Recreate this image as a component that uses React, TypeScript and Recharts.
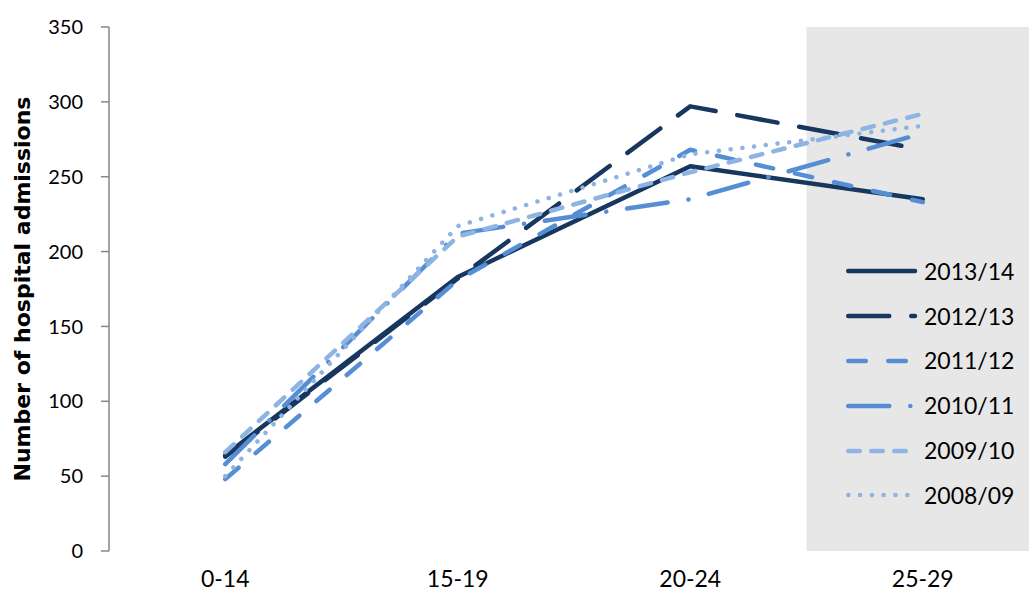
import { Legend, Line, LineChart, ReferenceArea, XAxis, YAxis } from "recharts";

const CATEGORIES = ["0-14", "15-19", "20-24", "25-29"];
const Y_TICKS = [0, 50, 100, 150, 200, 250, 300, 350];
const CATEGORY_TICKS = [0, 1, 2, 3];
const BOUNDARY_TICKS = [-0.5, 0.5, 1.5, 2.5];

// hospital admissions per age group, by year
const ADMISSIONS_2013_14 = [64, 183, 257, 235];
const ADMISSIONS_2012_13 = [63, 182, 297, 268];
const ADMISSIONS_2011_12 = [48, 181, 268, 233];
const ADMISSIONS_2010_11 = [58, 212, 235, 279];
const ADMISSIONS_2009_10 = [66, 210, 253, 292];
const ADMISSIONS_2008_09 = [50, 217, 265, 284];

const NAVY = "#17375E";
const MID_BLUE = "#558ED5";
const LIGHT_BLUE = "#8EB4E3";
const AXIS_GREY = "#868686";

const SERIES = [
  { key: "y2013", name: "2013/14", values: ADMISSIONS_2013_14, color: NAVY, dash: undefined },
  { key: "y2012", name: "2012/13", values: ADMISSIONS_2012_13, color: NAVY, dash: "41 22" },
  { key: "y2011", name: "2011/12", values: ADMISSIONS_2011_12, color: MID_BLUE, dash: "17.5 22.5" },
  { key: "y2010", name: "2010/11", values: ADMISSIONS_2010_11, color: MID_BLUE, dash: "41 21 0.1 21" },
  { key: "y2009", name: "2009/10", values: ADMISSIONS_2009_10, color: LIGHT_BLUE, dash: "11.5 11.5" },
  { key: "y2008", name: "2008/09", values: ADMISSIONS_2008_09, color: LIGHT_BLUE, dash: "0.1 11.7" },
];

const chartData = CATEGORIES.map((label, i) => {
  const row: Record<string, string | number> = { x: i, label };
  for (const s of SERIES) row[s.key] = s.values[i];
  return row;
});

function LegendContent() {
  return (
    <div style={{ fontFamily: "Lato", fontSize: 23, color: "#000" }}>
      {SERIES.map((s) => (
        <div key={s.key} style={{ display: "flex", alignItems: "center", height: 44.8 }}>
          <svg width={75} height={10} style={{ flex: "none" }}>
            <line
              x1={2.25}
              y1={5}
              x2={69}
              y2={5}
              stroke={s.color}
              strokeWidth={4.5}
              strokeLinecap="round"
              strokeDasharray={s.dash}
            />
          </svg>
          <span style={{ marginLeft: 3, lineHeight: 1 }}>{s.name}</span>
        </div>
      ))}
    </div>
  );
}

export default function App() {
  return (
    <div
      style={{
        position: "absolute",
        left: 0,
        top: 0,
        width: 1029,
        height: 595,
        overflow: "hidden",
        background: "#fff",
      }}
    >
      <LineChart width={1040} height={595} data={chartData} margin={{ top: 27, right: 1, bottom: 0, left: 0 }}>
        <ReferenceArea
          xAxisId="cat"
          x1={2.5}
          x2={3.5}
          y1={0}
          y2={350}
          fill="#E7E7E7"
          fillOpacity={1}
          stroke="none"
        />
        <XAxis
          xAxisId="edges"
          dataKey="x"
          type="number"
          domain={[-0.5, 3.5]}
          ticks={BOUNDARY_TICKS}
          tick={false}
          tickSize={8}
          height={0}
          axisLine={{ stroke: AXIS_GREY, strokeWidth: 1.5 }}
          tickLine={{ stroke: AXIS_GREY, strokeWidth: 1.5 }}
        />
        <XAxis
          xAxisId="cat"
          dataKey="x"
          type="number"
          domain={[-0.5, 3.5]}
          ticks={CATEGORY_TICKS}
          tickFormatter={(i: number) => CATEGORIES[i] ?? ""}
          axisLine={false}
          tickLine={false}
          tickSize={0}
          tickMargin={20}
          height={44}
          tick={{ fill: "#000", fontSize: 23, fontFamily: "Lato" }}
        />
        <YAxis
          domain={[0, 350]}
          ticks={Y_TICKS}
          width={109}
          tickSize={8}
          tickMargin={18}
          axisLine={{ stroke: AXIS_GREY, strokeWidth: 1.5 }}
          tickLine={{ stroke: AXIS_GREY, strokeWidth: 1.5 }}
          tick={{ fill: "#000", fontSize: 20, fontFamily: "Lato" }}
          label={{
            value: "Number of hospital admissions",
            angle: -90,
            position: "center",
            dx: -32,
            style: { fontFamily: "DejaVu Sans", fontWeight: "bold", fontSize: 22, fill: "#000" },
          }}
        />
        {SERIES.map((s) => (
          <Line
            key={s.key}
            xAxisId="cat"
            dataKey={s.key}
            name={s.name}
            stroke={s.color}
            strokeWidth={4.5}
            strokeDasharray={s.dash}
            strokeLinecap="round"
            strokeLinejoin="round"
            dot={false}
            activeDot={false}
            type="linear"
            isAnimationActive={false}
          />
        ))}
        <Legend
          layout="vertical"
          align="center"
          verticalAlign="middle"
          content={() => <LegendContent />}
          wrapperStyle={{ left: 846, top: 249, width: 183 }}
        />
      </LineChart>
    </div>
  );
}
